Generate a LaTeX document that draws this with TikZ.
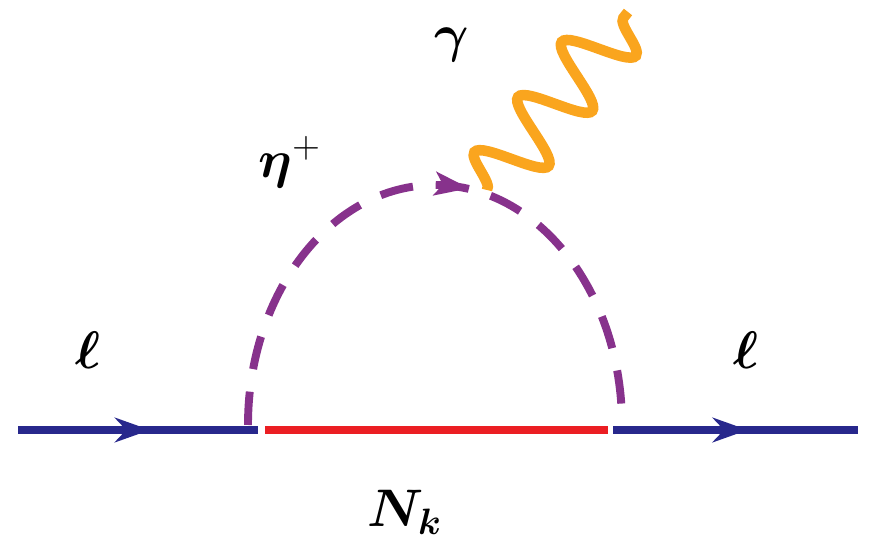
\documentclass[tikz,border=0pt]{standalone}
\usepackage{amsmath,bm}
\usetikzlibrary{decorations.pathmorphing,decorations.markings,arrows.meta}
\definecolor{fblue}{RGB}{40,40,140}
\definecolor{fred}{RGB}{235,30,35}
\definecolor{fpurple}{RGB}{135,50,140}
\definecolor{forange}{RGB}{250,165,30}
\tikzset{
 fermion/.style={fblue,line width=4.5pt,postaction={decorate},decoration={markings,mark=at position 0.55 with {\arrow{Stealth[length=20pt,width=14pt]}}}},
 scalar/.style={fpurple,line width=4.5pt,dash pattern=on 19pt off 13pt},
 scalararrow/.style={postaction={decorate},decoration={markings,mark=at position 0.53 with {\fill[fpurple,solid] (8pt,0)--(-12pt,7pt)--(-7pt,0)--(-12pt,-7pt)--cycle;}}},
 photonline/.style={forange,line width=6pt,decorate,decoration={snake,amplitude=19pt,segment length=40pt}},
 lbl/.style={font=\fontsize{20.74}{24}\selectfont,scale=1.45}
}
\begin{document}
\begin{tikzpicture}[x=0.2mm,y=-0.2mm]
\useasboundingbox (0,0) rectangle (871,551);
\coordinate (a) at (18,430);
\coordinate (b) at (258,430);
\coordinate (c) at (265,430);
\coordinate (d) at (608,430);
\coordinate (e) at (613,430);
\coordinate (f) at (858,430);
\coordinate (p1) at (487,190);
\coordinate (p2) at (628,12);
\draw[fermion] (a) -- (b);
\draw[fred,line width=4.5pt] (c) -- (d);
\draw[fermion] (e) -- (f);
\draw[scalar] (248,425) arc[start angle=180,end angle=360,x radius=187,y radius=240];
\path[scalararrow] (248,425) arc[start angle=180,end angle=360,x radius=187,y radius=240];
\draw[photonline] (p1) -- (p2);
\node[lbl] (l1) at (88,350) {$\bm{\ell}$};
\node[lbl] (l2) at (746,350) {$\bm{\ell}$};
\node[lbl] (eta) at (290,162) {$\bm{\eta}^{+}$};
\node[lbl] (g) at (452,45) {$\bm{\gamma}$};
\node[lbl] (N) at (405,512) {$\bm{N_k}$};
\end{tikzpicture}
\end{document}
